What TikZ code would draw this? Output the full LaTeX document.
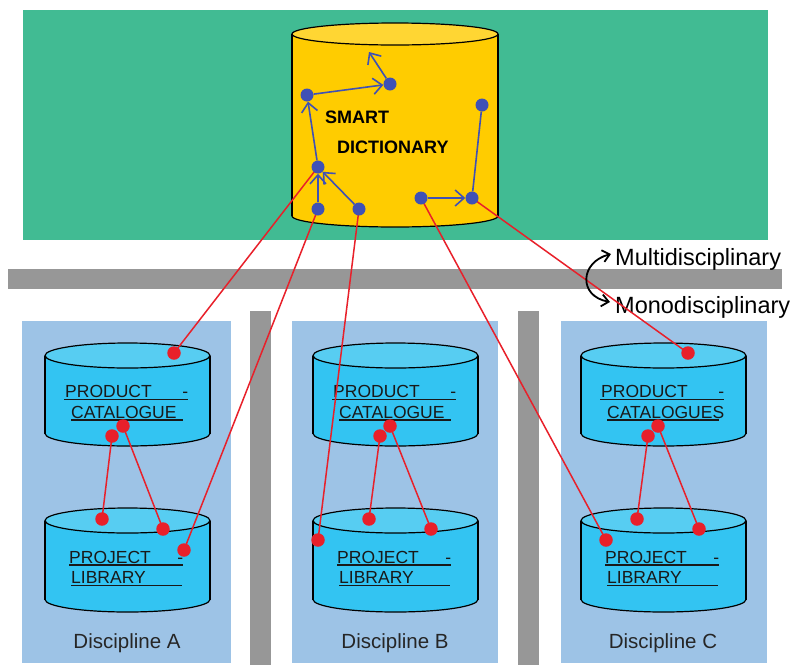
\documentclass[tikz,border=0pt]{standalone}
\usepackage{fontspec}
\setmainfont{Liberation Sans}
\usetikzlibrary{arrows.meta}
\definecolor{bggreen}{HTML}{41BB93}
\definecolor{bargray}{HTML}{979797}
\definecolor{panelblue}{HTML}{9DC3E6}
\definecolor{cyanside}{HTML}{33C4F2}
\definecolor{cyantop}{HTML}{57CDF2}
\definecolor{yelside}{HTML}{FFCC00}
\definecolor{yeltop}{HTML}{FFD633}
\definecolor{dotblue}{HTML}{3F51B5}
\definecolor{dotred}{HTML}{E8202A}
\pgfdeclarelayer{bg}
\pgfdeclarelayer{lines}
\pgfsetlayers{bg,lines,main}
\newcommand\cylshape[7]{% xl xr yt yb ry side top
  \pgfmathsetmacro\crx{(#2-#1)/2}%
  \pgfmathsetmacro\ccx{(#1+#2)/2}%
  \filldraw[fill=#6,draw=black,line width=1.2pt] (\ccx,#4) ellipse[x radius=\crx,y radius=#5];
  \fill[#6] (#1,#3) rectangle (#2,#4);
  \draw[black,line width=1.2pt] (#1,#3) -- (#1,#4) (#2,#3) -- (#2,#4);
  \filldraw[fill=#7,draw=black,line width=1.2pt] (\ccx,#3) ellipse[x radius=\crx,y radius=#5];
}
\begin{document}
\begin{tikzpicture}[x=1pt,y=-1pt,
  bdot/.style={circle,fill=dotblue,inner sep=0pt,minimum size=13pt},
  rdot/.style={circle,fill=dotred,inner sep=0pt,minimum size=13.5pt},
  bline/.style={draw=dotblue,line width=1.6pt},
  barrow/.style={bline,-{Straight Barb[length=9pt,width=16pt,line width=1.6pt]}},
  rline/.style={draw=dotred,line width=1.5pt},
  cyltext/.style={font=\fontsize{17.5}{20}\selectfont,text=black!90,inner sep=0pt,anchor=base west},
  ulin/.style={draw=black!90,line width=1.3pt},
  disc/.style={font=\fontsize{20.5}{24}\selectfont,text=black!85,inner sep=0pt,anchor=base},
  side/.style={font=\fontsize{23.5}{28}\selectfont,text=black,inner sep=0pt,anchor=base west},
  dict/.style={font=\bfseries\fontsize{18}{20}\selectfont,text=black,inner sep=0pt,anchor=base west}]
\useasboundingbox (0,0) rectangle (793,665);
\begin{pgfonlayer}{bg}
  \fill[white] (0,0) rectangle (793,665);
  \fill[bggreen] (23,10) rectangle (768,240);
  \fill[bargray] (8,269) rectangle (782,289);
  \fill[panelblue] (22,321) rectangle (231,663);
  \fill[panelblue] (292,321) rectangle (498,663);
  \fill[panelblue] (561,321) rectangle (767,663);
  \fill[bargray] (250,311) rectangle (271,665);
  \fill[bargray] (518,311) rectangle (539,665);
  % smart dictionary
  \cylshape{292}{498}{34}{216}{11}{yelside}{yeltop}
  \node[dict] (tsmart) at (325,123) {SMART};
  \node[dict] (tdict) at (337,153) {DICTIONARY};
  % discipline cylinders
  \foreach \xl/\n/\cat in {45/A/CATALOGUE,313/B/CATALOGUE,581/C/CATALOGUES}{
    \cylshape{\xl}{\xl+165}{355.5}{433.5}{12.5}{cyanside}{cyantop}
    \cylshape{\xl}{\xl+165}{520.5}{599.5}{12.5}{cyanside}{cyantop}
    \node[cyltext] (prod\n) at (\xl+20,397) {\makebox[123pt][l]{PRODUCT\hfill-}};
    \node[cyltext] (cat\n) at (\xl+26,418) {\cat};
    \node[cyltext] (proj\n) at (\xl+24,563) {\makebox[114pt][l]{PROJECT\hfill-}};
    \node[cyltext] (lib\n) at (\xl+26,583) {LIBRARY};
    \draw[ulin] (\xl+19,399.5) -- (\xl+143,399.5);
    \draw[ulin] (\xl+26,420) -- (\xl+138,420);
    \draw[ulin] (\xl+24,565) -- (\xl+138,565);
    \draw[ulin] (\xl+26,585.5) -- (\xl+137,585.5);
    \node[disc] (disc\n) at (\xl+82,648) {Discipline \n};
  }
  \node[side] (multi) at (615,265) {Multidisciplinary};
  \node[side] (mono) at (615,313) {Monodisciplinary};
\end{pgfonlayer}
% curved arrow
\coordinate (cvtop) at (611,254);
\coordinate (cvbot) at (610,302);
\draw[black,line width=1.8pt,{Straight Barb[length=7pt,width=12pt]}-{Straight Barb[length=7pt,width=12pt]}]
  (cvtop) .. controls (580,262) and (578,296) .. (cvbot);
% blue dots
\node[bdot] (d1) at (307,95) {};
\node[bdot] (d2) at (390,84) {};
\node[bdot] (d3) at (482,105) {};
\node[bdot] (d4) at (318,167) {};
\node[bdot] (d5) at (318,209) {};
\node[bdot] (d6) at (359,209) {};
\node[bdot] (d7) at (421,198) {};
\node[bdot] (d8) at (472,198) {};
\coordinate (d2end) at (369,52);
% red dots
\node[rdot] (ra0) at (174,353) {};
\node[rdot] (ra1) at (123,426) {};
\node[rdot] (ra2) at (112,436) {};
\node[rdot] (ra3) at (102,519) {};
\node[rdot] (ra4) at (163,529) {};
\node[rdot] (ra5) at (184,550) {};
\node[rdot] (rb1) at (390,426) {};
\node[rdot] (rb2) at (380,436) {};
\node[rdot] (rb3) at (369,519) {};
\node[rdot] (rb4) at (431,529) {};
\node[rdot] (rb5) at (318,540) {};
\node[rdot] (rc0) at (688,353) {};
\node[rdot] (rc1) at (658,426) {};
\node[rdot] (rc2) at (648,436) {};
\node[rdot] (rc3) at (637,519) {};
\node[rdot] (rc4) at (699,529) {};
\node[rdot] (rc5) at (606,540) {};
\begin{pgfonlayer}{lines}
  % blue connectors
  \draw[barrow] (d4) -- (d1);
  \draw[barrow] (d1) -- (d2);
  \draw[barrow] (d2) -- (d2end);
  \draw[barrow] (d5) -- (d4);
  \draw[barrow] (d6) -- (d4);
  \draw[barrow] (d7) -- (d8);
  \draw[bline] (d3) -- (d8);
  % red connectors
  \draw[rline] (d4.center) -- (ra0.center);
  \draw[rline] (d5.center) -- (ra5.center);
  \draw[rline] (d6.center) -- (rb5.center);
  \draw[rline] (d7.center) -- (rc5.center);
  \draw[rline] (d8.center) -- (rc0.center);
  \draw[rline] (ra2.center) -- (ra3.center);
  \draw[rline] (ra1.center) -- (ra4.center);
  \draw[rline] (rb2.center) -- (rb3.center);
  \draw[rline] (rb1.center) -- (rb4.center);
  \draw[rline] (rc2.center) -- (rc3.center);
  \draw[rline] (rc1.center) -- (rc4.center);
\end{pgfonlayer}
\end{tikzpicture}
\end{document}
